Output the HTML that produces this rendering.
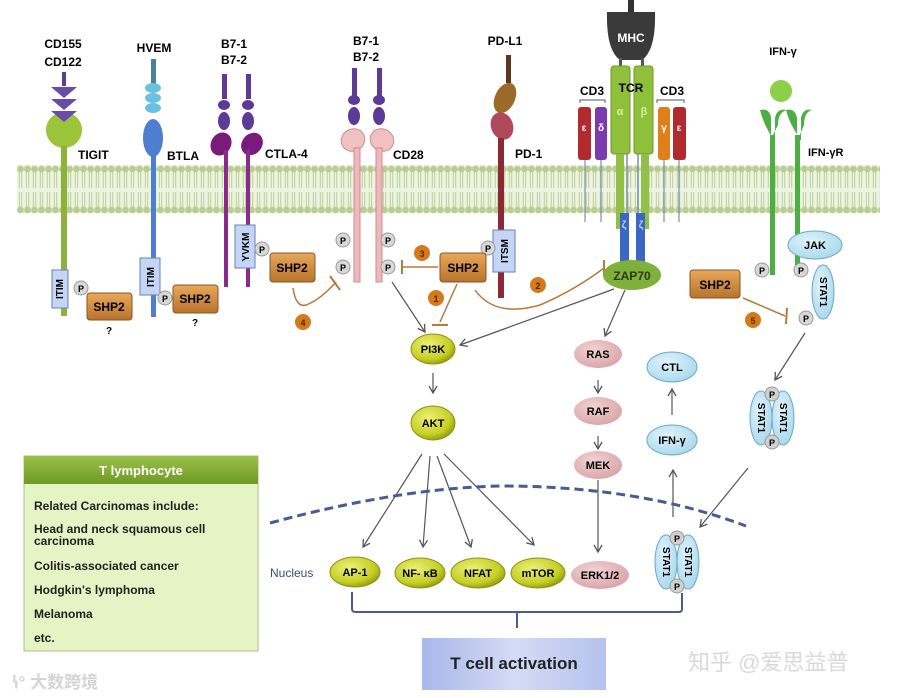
<!DOCTYPE html>
<html><head><meta charset="utf-8"><style>
html,body{margin:0;padding:0;background:#fff}
svg{display:block}
text{font-family:"Liberation Sans",Arial,sans-serif;font-weight:bold}
</style></head><body>
<svg width="900" height="698" viewBox="0 0 900 698" xmlns="http://www.w3.org/2000/svg">
<defs>
<pattern id="mem" x="17" y="0" width="7" height="698" patternUnits="userSpaceOnUse">
<rect x="0" y="165" width="7" height="48" fill="#eef4e2"/>
<circle cx="3.5" cy="169" r="3.4" fill="#b9cd92"/>
<line x1="2.3" y1="172" x2="2.3" y2="188" stroke="#bccf98" stroke-width="1"/>
<line x1="4.7" y1="172" x2="4.7" y2="188" stroke="#bccf98" stroke-width="1"/>
<line x1="2.3" y1="192" x2="2.3" y2="207" stroke="#bccf98" stroke-width="1"/>
<line x1="4.7" y1="192" x2="4.7" y2="207" stroke="#bccf98" stroke-width="1"/>
<circle cx="3.5" cy="210" r="3.4" fill="#b9cd92"/>
</pattern>
<linearGradient id="shp" x1="0" y1="0" x2="0" y2="1"><stop offset="0" stop-color="#e8a85a"/><stop offset="1" stop-color="#b8732c"/></linearGradient>
<radialGradient id="yel" cx="0.4" cy="0.35" r="0.7"><stop offset="0" stop-color="#eef07a"/><stop offset="0.7" stop-color="#c6cf24"/><stop offset="1" stop-color="#8d9410"/></radialGradient>
<radialGradient id="pnk" cx="0.4" cy="0.35" r="0.7"><stop offset="0" stop-color="#f1d3d3"/><stop offset="1" stop-color="#d9a3a6"/></radialGradient>
<radialGradient id="blu" cx="0.4" cy="0.35" r="0.7"><stop offset="0" stop-color="#e0f3fa"/><stop offset="1" stop-color="#a8d8ec"/></radialGradient>
<linearGradient id="hdr" x1="0" y1="0" x2="0" y2="1"><stop offset="0" stop-color="#9bc04a"/><stop offset="1" stop-color="#6e9a25"/></linearGradient>
<linearGradient id="tbox" x1="0" y1="0" x2="1" y2="0"><stop offset="0" stop-color="#a9b7ea"/><stop offset="0.5" stop-color="#d4dbf5"/><stop offset="1" stop-color="#b6c2ee"/></linearGradient>
<marker id="ar" markerWidth="10" markerHeight="10" refX="8" refY="5" orient="auto" markerUnits="userSpaceOnUse"><path d="M1,1 L8,5 L1,9" fill="none" stroke="#555" stroke-width="1.3"/></marker>
</defs>

<!-- membrane -->
<rect x="17" y="163" width="863" height="52" fill="url(#mem)"/>

<!-- ===== TIGIT ===== -->
<text x="63" y="48" font-size="12" text-anchor="middle">CD155</text>
<text x="63" y="66" font-size="12" text-anchor="middle">CD122</text>
<rect x="62" y="72" width="4" height="14" fill="#5a3e96"/>
<circle cx="64" cy="130" r="18" fill="#9cc43a"/>
<path d="M51,87 L77,87 L64,98Z M51,99 L77,99 L64,110Z M51,111 L77,111 L64,122Z" fill="#6a4aaa"/>
<rect x="61" y="146" width="6" height="170" fill="#8bb33b"/>
<text x="78" y="159" font-size="12">TIGIT</text>
<rect x="52" y="270" width="16" height="38" fill="#c5d5f5" stroke="#6a7fb5"/>
<text x="64" y="289" font-size="10" transform="rotate(-90 64 289)" text-anchor="middle" dy="-1">ITIM</text>
<circle cx="81" cy="288" r="7" fill="#d8d8d8" stroke="#999"/><text x="81" y="292" font-size="9" text-anchor="middle">P</text>
<rect x="87" y="293" width="45" height="27" rx="3" fill="url(#shp)" stroke="#8a5520"/>
<text x="109" y="311" font-size="12" text-anchor="middle">SHP2</text>
<text x="109" y="334" font-size="10" text-anchor="middle">?</text>

<!-- ===== BTLA ===== -->
<text x="154" y="52" font-size="12" text-anchor="middle">HVEM</text>
<rect x="151" y="59" width="5" height="25" fill="#4d7fa0"/>
<ellipse cx="153" cy="88" rx="8" ry="5" fill="#6ac0df"/>
<ellipse cx="153" cy="98" rx="8" ry="5" fill="#6ac0df"/>
<ellipse cx="153" cy="108" rx="8" ry="5" fill="#6ac0df"/>
<ellipse cx="153" cy="138" rx="10" ry="19" fill="#4f7ed0"/>
<rect x="151" y="155" width="5" height="162" fill="#4f7ed0"/>
<text x="167" y="160" font-size="12">BTLA</text>
<rect x="140" y="258" width="20" height="37" fill="#c5d5f5" stroke="#6a7fb5"/>
<text x="154" y="277" font-size="10" transform="rotate(-90 154 277)" text-anchor="middle">ITIM</text>
<circle cx="165" cy="298" r="7" fill="#d8d8d8" stroke="#999"/><text x="165" y="302" font-size="9" text-anchor="middle">P</text>
<rect x="173" y="285" width="45" height="28" rx="3" fill="url(#shp)" stroke="#8a5520"/>
<text x="195" y="303" font-size="12" text-anchor="middle">SHP2</text>
<text x="195" y="326" font-size="10" text-anchor="middle">?</text>

<!-- ===== CTLA-4 ===== -->
<text x="234" y="48" font-size="12" text-anchor="middle">B7-1</text>
<text x="234" y="64" font-size="12" text-anchor="middle">B7-2</text>
<g fill="#5c3a96">
<rect x="222" y="74" width="5" height="25"/><rect x="246" y="74" width="5" height="25"/>
<ellipse cx="224" cy="105" rx="6" ry="5"/><ellipse cx="248" cy="105" rx="6" ry="5"/>
<ellipse cx="224" cy="121" rx="6" ry="9"/><ellipse cx="248" cy="121" rx="6" ry="9"/>
</g>
<ellipse cx="221" cy="144" rx="10" ry="12" fill="#7a1a7a" transform="rotate(30 221 144)"/>
<ellipse cx="252" cy="144" rx="10" ry="12" fill="#7a1a7a" transform="rotate(40 252 144)"/>
<rect x="224" y="150" width="4" height="137" fill="#8a2a8a"/>
<rect x="246" y="150" width="4" height="137" fill="#8a2a8a"/>
<text x="265" y="158" font-size="12">CTLA-4</text>
<rect x="235" y="225" width="20" height="43" fill="#c5d5f5" stroke="#6a7fb5"/>
<text x="249" y="247" font-size="10" transform="rotate(-90 249 247)" text-anchor="middle">YVKM</text>
<circle cx="262" cy="249" r="7" fill="#d8d8d8" stroke="#999"/><text x="262" y="253" font-size="9" text-anchor="middle">P</text>
<rect x="270" y="253" width="45" height="29" rx="3" fill="url(#shp)" stroke="#8a5520"/>
<text x="292" y="272" font-size="12" text-anchor="middle">SHP2</text>
<path d="M293,288 Q296,308 306,305 Q320,300 336,282" fill="none" stroke="#b57a3c" stroke-width="1.5"/>
<line x1="330" y1="276" x2="340" y2="290" stroke="#b57a3c" stroke-width="2"/>
<circle cx="303" cy="322" r="8" fill="#d27a1c"/><text x="303" y="326" font-size="9" text-anchor="middle" fill="#5a2a00">4</text>

<!-- ===== CD28 ===== -->
<text x="366" y="45" font-size="12" text-anchor="middle">B7-1</text>
<text x="366" y="61" font-size="12" text-anchor="middle">B7-2</text>
<g fill="#5c3a96">
<rect x="352" y="68" width="5" height="28"/><rect x="377" y="68" width="5" height="28"/>
<ellipse cx="354" cy="100" rx="6" ry="5"/><ellipse cx="379" cy="100" rx="6" ry="5"/>
<ellipse cx="354" cy="116" rx="6" ry="9"/><ellipse cx="379" cy="116" rx="6" ry="9"/>
</g>
<ellipse cx="353" cy="140" rx="12" ry="11" fill="#f0c0c2" stroke="#c98d90" transform="rotate(-30 353 140)"/>
<ellipse cx="382" cy="140" rx="12" ry="11" fill="#f0c0c2" stroke="#c98d90" transform="rotate(30 382 140)"/>
<rect x="354" y="148" width="6" height="134" fill="#f0b8bc" stroke="#c98d90"/>
<rect x="376" y="148" width="6" height="134" fill="#f0b8bc" stroke="#c98d90"/>
<text x="393" y="159" font-size="12">CD28</text>
<g font-size="9" text-anchor="middle">
<circle cx="343" cy="240" r="7" fill="#d8d8d8" stroke="#999"/><text x="343" y="244">P</text>
<circle cx="343" cy="267" r="7" fill="#d8d8d8" stroke="#999"/><text x="343" y="271">P</text>
<circle cx="388" cy="240" r="7" fill="#d8d8d8" stroke="#999"/><text x="388" y="244">P</text>
<circle cx="388" cy="267" r="7" fill="#d8d8d8" stroke="#999"/><text x="388" y="271">P</text>
</g>
<line x1="402" y1="267" x2="438" y2="267" stroke="#b57a3c" stroke-width="1.5"/>
<line x1="402" y1="260" x2="402" y2="274" stroke="#b57a3c" stroke-width="2"/>
<circle cx="422" cy="253" r="8" fill="#d27a1c"/><text x="422" y="257" font-size="9" text-anchor="middle" fill="#5a2a00">3</text>
<circle cx="436" cy="298" r="8" fill="#d27a1c"/><text x="436" y="302" font-size="9" text-anchor="middle" fill="#5a2a00">1</text>

<!-- ===== PD-1 ===== -->
<text x="505" y="45" font-size="12" text-anchor="middle">PD-L1</text>
<rect x="506" y="55" width="5" height="28" fill="#5a3820"/>
<ellipse cx="505" cy="98" rx="10" ry="16" fill="#9a6a2a" transform="rotate(25 505 98)"/>
<ellipse cx="502" cy="126" rx="11" ry="14" fill="#b04a5a" transform="rotate(-20 502 126)"/>
<rect x="498" y="138" width="6" height="160" fill="#8a2a34"/>
<text x="515" y="158" font-size="12">PD-1</text>
<rect x="493" y="230" width="22" height="42" fill="#c5d5f5" stroke="#6a7fb5"/>
<text x="508" y="251" font-size="10" transform="rotate(-90 508 251)" text-anchor="middle">ITSM</text>
<circle cx="488" cy="248" r="7" fill="#d8d8d8" stroke="#999"/><text x="488" y="252" font-size="9" text-anchor="middle">P</text>
<rect x="440" y="253" width="46" height="29" rx="3" fill="url(#shp)" stroke="#8a5520"/>
<text x="463" y="272" font-size="12" text-anchor="middle">SHP2</text>
<line x1="457" y1="284" x2="440" y2="322" stroke="#b57a3c" stroke-width="1.5"/>
<line x1="432" y1="325" x2="448" y2="325" stroke="#b57a3c" stroke-width="2"/>
<path d="M475,290 Q495,318 540,305 Q575,290 604,268" fill="none" stroke="#b57a3c" stroke-width="1.5"/>
<line x1="604" y1="260" x2="604" y2="276" stroke="#b57a3c" stroke-width="2"/>
<circle cx="538" cy="285" r="8" fill="#d27a1c"/><text x="538" y="289" font-size="9" text-anchor="middle" fill="#5a2a00">2</text>

<!-- ===== TCR ===== -->
<rect x="628" y="0" width="6" height="12" fill="#333"/>
<path d="M607,12 L655,12 Q656,50 642,60 L620,60 Q606,50 607,12Z" fill="#3a3a3a"/>
<text x="631" y="42" font-size="12" text-anchor="middle" fill="#fff">MHC</text>
<rect x="619" y="58" width="3" height="9" fill="#555"/><rect x="641" y="58" width="3" height="9" fill="#555"/>
<rect x="611" y="66" width="19" height="88" rx="3" fill="#8ec03c" stroke="#6a9a26"/>
<rect x="634" y="66" width="19" height="88" rx="3" fill="#8ec03c" stroke="#6a9a26"/>
<rect x="616" y="154" width="8" height="75" fill="#92bf48"/>
<rect x="641" y="154" width="8" height="75" fill="#92bf48"/>
<line x1="627" y1="154" x2="627" y2="215" stroke="#7a8db5" stroke-width="1.5"/>
<line x1="638" y1="154" x2="638" y2="215" stroke="#7a8db5" stroke-width="1.5"/>
<text x="631" y="92" font-size="12" text-anchor="middle">TCR</text>
<text x="620" y="115" font-size="11" text-anchor="middle" fill="#d8f0a0">α</text>
<text x="644" y="115" font-size="11" text-anchor="middle" fill="#d8f0a0">β</text>
<rect x="620" y="213" width="9" height="50" fill="#3a66c4"/>
<rect x="636" y="213" width="9" height="50" fill="#3a66c4"/>
<text x="624" y="228" font-size="10" text-anchor="middle" fill="#c8d8ff">ζ</text>
<text x="641" y="228" font-size="10" text-anchor="middle" fill="#c8d8ff">ζ</text>
<ellipse cx="632" cy="275" rx="29" ry="15" fill="#7fb03a"/>
<text x="632" y="280" font-size="12" text-anchor="middle" fill="#2a3a10">ZAP70</text>
<text x="592" y="95" font-size="12" text-anchor="middle">CD3</text>
<text x="672" y="95" font-size="12" text-anchor="middle">CD3</text>
<path d="M580,103 L580,100 L605,100 L605,103 M657,103 L657,100 L684,100 L684,103" fill="none" stroke="#555"/>
<rect x="578" y="107" width="13" height="53" rx="3" fill="#b02a30"/>
<rect x="595" y="107" width="12" height="53" rx="3" fill="#7a3ab0"/>
<rect x="658" y="107" width="12" height="53" rx="3" fill="#e0801a"/>
<rect x="673" y="107" width="13" height="53" rx="3" fill="#b02a30"/>
<g stroke="#7a8db5" stroke-width="1.2"><line x1="585" y1="160" x2="585" y2="222"/><line x1="601" y1="160" x2="601" y2="222"/><line x1="664" y1="160" x2="664" y2="222"/><line x1="679" y1="160" x2="679" y2="222"/></g>
<g font-size="10" text-anchor="middle" fill="#fff"><text x="584" y="131">ε</text><text x="601" y="131">δ</text><text x="664" y="131">γ</text><text x="679" y="131">ε</text></g>

<!-- ===== IFN-gR ===== -->
<text x="783" y="55" font-size="11" text-anchor="middle">IFN-γ</text>
<circle cx="781" cy="91" r="11" fill="#8ccf48"/>
<path d="M760,110 Q770,108 771,118 L771,140 L775,140 L775,118 Q777,108 787,110 Q778,112 778,125 L772,137 Q764,125 760,110Z" fill="#4cae44"/>
<path d="M786,110 Q795,108 797,118 L797,140 L801,140 L801,118 Q803,108 812,110 Q804,112 804,125 L799,137 Q790,125 786,110Z" fill="#4cae44"/>
<rect x="770" y="135" width="5" height="140" fill="#4cae44"/>
<rect x="795" y="135" width="5" height="140" fill="#4cae44"/>
<text x="808" y="156" font-size="11">IFN-γR</text>
<ellipse cx="815" cy="245" rx="27" ry="14" fill="url(#blu)" stroke="#6aa8c8"/>
<text x="815" y="249" font-size="11" text-anchor="middle">JAK</text>
<ellipse cx="823" cy="292" rx="11" ry="27" fill="url(#blu)" stroke="#6aa8c8"/>
<text x="823" y="292" font-size="10" text-anchor="middle" transform="rotate(90 823 292)" dy="3">STAT1</text>
<g font-size="9" text-anchor="middle">
<circle cx="762" cy="270" r="7" fill="#d8d8d8" stroke="#999"/><text x="762" y="274">P</text>
<circle cx="801" cy="270" r="7" fill="#d8d8d8" stroke="#999"/><text x="801" y="274">P</text>
<circle cx="806" cy="318" r="7" fill="#d8d8d8" stroke="#999"/><text x="806" y="322">P</text>
</g>
<rect x="690" y="270" width="50" height="28" rx="3" fill="url(#shp)" stroke="#8a5520"/>
<text x="715" y="289" font-size="12" text-anchor="middle">SHP2</text>
<line x1="743" y1="298" x2="785" y2="316" stroke="#b57a3c" stroke-width="1.5"/>
<line x1="787" y1="308" x2="786" y2="324" stroke="#b57a3c" stroke-width="2"/>
<circle cx="753" cy="320" r="8" fill="#d27a1c"/><text x="753" y="324" font-size="9" text-anchor="middle" fill="#5a2a00">5</text>

<!-- ===== arrows ===== -->
<g stroke="#555" stroke-width="1.2" fill="none" marker-end="url(#ar)">
<line x1="392" y1="282" x2="425" y2="332"/>
<line x1="614" y1="289" x2="460" y2="345"/>
<line x1="625" y1="290" x2="605" y2="336"/>
<line x1="433" y1="373" x2="433" y2="393"/>
<line x1="598" y1="380" x2="598" y2="393"/>
<line x1="598" y1="436" x2="598" y2="449"/>
<line x1="598" y1="480" x2="598" y2="552"/>
<line x1="672" y1="415" x2="672" y2="389"/>
<line x1="673" y1="517" x2="673" y2="470"/>
<line x1="805" y1="333" x2="775" y2="380"/>
<line x1="748" y1="468" x2="700" y2="527"/>
<line x1="422" y1="454" x2="363" y2="547"/>
<line x1="430" y1="456" x2="423" y2="547"/>
<line x1="437" y1="456" x2="471" y2="547"/>
<line x1="444" y1="454" x2="534" y2="545"/>
</g>

<!-- nucleus -->
<path d="M270,523 Q400,488 500,486 Q640,486 746,526" fill="none" stroke="#4a5a94" stroke-width="3" stroke-dasharray="9,5"/>
<text x="270" y="577" font-size="12" fill="#3a4a80" style="font-weight:normal">Nucleus</text>

<!-- nodes -->
<g font-size="11" text-anchor="middle">
<ellipse cx="433" cy="349" rx="22" ry="15" fill="url(#yel)" stroke="#8a9210"/><text x="433" y="353">PI3K</text>
<ellipse cx="433" cy="423" rx="22" ry="17" fill="url(#yel)" stroke="#8a9210"/><text x="433" y="427">AKT</text>
<ellipse cx="355" cy="572" rx="25" ry="15" fill="url(#yel)" stroke="#8a9210"/><text x="355" y="576">AP-1</text>
<ellipse cx="420" cy="573" rx="25" ry="15" fill="url(#yel)" stroke="#8a9210"/><text x="420" y="577">NF- κB</text>
<ellipse cx="478" cy="573" rx="27" ry="15" fill="url(#yel)" stroke="#8a9210"/><text x="478" y="577">NFAT</text>
<ellipse cx="538" cy="573" rx="27" ry="15" fill="url(#yel)" stroke="#8a9210"/><text x="538" y="577">mTOR</text>
<ellipse cx="598" cy="354" rx="24" ry="14" fill="url(#pnk)"/><text x="598" y="358">RAS</text>
<ellipse cx="598" cy="411" rx="24" ry="14" fill="url(#pnk)"/><text x="598" y="415">RAF</text>
<ellipse cx="598" cy="465" rx="24" ry="14" fill="url(#pnk)"/><text x="598" y="469">MEK</text>
<ellipse cx="600" cy="575" rx="29" ry="14" fill="url(#pnk)"/><text x="600" y="579">ERK1/2</text>
<ellipse cx="672" cy="367" rx="25" ry="15" fill="url(#blu)" stroke="#6aa8c8"/><text x="672" y="371">CTL</text>
<ellipse cx="672" cy="440" rx="25" ry="15" fill="url(#blu)" stroke="#6aa8c8"/><text x="672" y="444">IFN-γ</text>
</g>

<!-- STAT1 dimers -->
<g font-size="10" text-anchor="middle">
<g transform="translate(772,418)">
<ellipse cx="-11" cy="0" rx="11" ry="27" fill="url(#blu)" stroke="#6aa8c8"/>
<ellipse cx="11" cy="0" rx="11" ry="27" fill="url(#blu)" stroke="#6aa8c8"/>
<text transform="rotate(90) translate(0,14)" >STAT1</text>
<text transform="rotate(90) translate(0,-8)">STAT1</text>
<circle cx="0" cy="-24" r="7" fill="#d0d0d0" stroke="#999"/><text x="0" y="-20" font-size="9">P</text>
<circle cx="0" cy="24" r="7" fill="#d0d0d0" stroke="#999"/><text x="0" y="28" font-size="9">P</text>
</g>
<g transform="translate(677,562)">
<ellipse cx="-11" cy="0" rx="11" ry="27" fill="url(#blu)" stroke="#6aa8c8"/>
<ellipse cx="11" cy="0" rx="11" ry="27" fill="url(#blu)" stroke="#6aa8c8"/>
<text transform="rotate(90) translate(0,14)">STAT1</text>
<text transform="rotate(90) translate(0,-8)">STAT1</text>
<circle cx="0" cy="-24" r="7" fill="#d0d0d0" stroke="#999"/><text x="0" y="-20" font-size="9">P</text>
<circle cx="0" cy="24" r="7" fill="#d0d0d0" stroke="#999"/><text x="0" y="28" font-size="9">P</text>
</g>
</g>

<!-- bracket -->
<path d="M352,592 L352,609 Q352,612 356,612 L679,612 Q682,612 682,609 L682,593 M517,612 L517,628" fill="none" stroke="#4a5a94" stroke-width="2"/>

<!-- T cell activation -->
<rect x="422" y="638" width="184" height="52" fill="url(#tbox)"/>
<text x="514" y="669" font-size="17" text-anchor="middle" fill="#222">T cell activation</text>

<!-- T lymphocyte box -->
<rect x="24" y="456" width="234" height="195" fill="#e4f4c4" stroke="#a8c080"/>
<rect x="24" y="456" width="234" height="28" fill="url(#hdr)"/>
<text x="141" y="475" font-size="13" text-anchor="middle" fill="#fff">T lymphocyte</text>
<g font-size="12" fill="#222">
<text x="34" y="510">Related Carcinomas include:</text>
<text x="34" y="533">Head and neck squamous cell</text>
<text x="34" y="545">carcinoma</text>
<text x="34" y="570">Colitis-associated  cancer</text>
<text x="34" y="594">Hodgkin's lymphoma</text>
<text x="34" y="618">Melanoma</text>
<text x="34" y="642">etc.</text>
</g>

<!-- watermarks -->
<text x="12" y="688" font-size="17" fill="#d4d4d4" style="font-family:'Liberation Sans','Noto Sans CJK SC',sans-serif">ꝇ° 大数跨境</text>
<text x="688" y="670" font-size="22" fill="#d8d8d8" style="font-family:'Liberation Sans','Noto Sans CJK SC',sans-serif;font-weight:normal">知乎 @爱思益普</text>
</svg>
</body></html>
